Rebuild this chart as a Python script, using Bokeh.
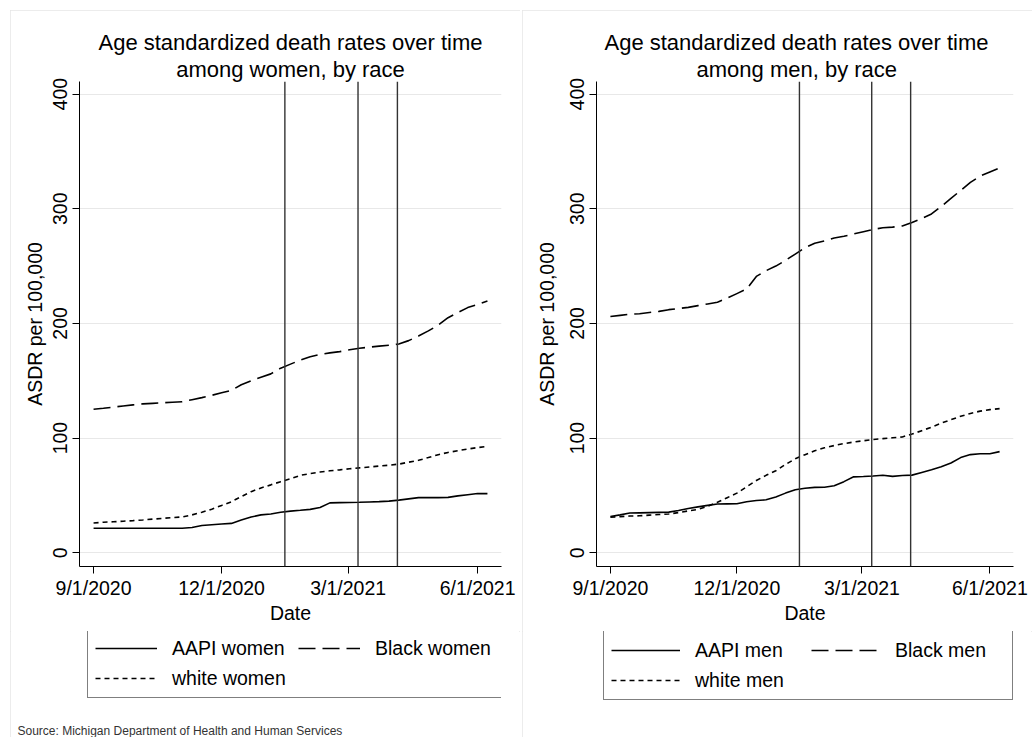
import pandas as pd
from bokeh.plotting import figure
from bokeh.models import Span, Legend, LegendItem, FixedTicker, Title
from bokeh.layouts import row, column
from bokeh.embed import file_html
from bokeh.resources import INLINE

# ---------------- data (weekly) ----------------
week_dates = pd.date_range("2020-09-01", periods=41, freq="7D")

aapi_women = [21.4, 21.4, 21.4, 21.4, 21.4, 21.4, 21.4, 21.4, 21.4, 21.4,
              22.0, 23.7, 24.4, 25.0, 25.6, 28.5, 31.2, 33.0, 33.8, 35.3,
              36.3, 37.0, 37.8, 39.5, 43.5, 43.7, 43.8, 44.0, 44.3, 44.6,
              45.0, 45.9, 47.0, 48.1, 48.1, 48.1, 48.3, 49.6, 50.6, 51.6, 51.6]
black_women = [125.2, 126.0, 127.0, 128.0, 129.0, 129.8, 130.3, 130.8, 131.3, 131.7,
               133.5, 135.3, 137.3, 139.5, 141.6, 146.5, 150.0, 153.0, 156.0, 161.0,
               164.5, 168.0, 171.0, 173.0, 174.3, 175.4, 177.0, 178.3, 179.3, 180.2,
               181.0, 182.0, 185.0, 189.0, 193.5, 198.5, 205.0, 209.5, 213.8, 216.5, 219.5]
white_women = [26.0, 26.6, 27.0, 27.5, 28.0, 28.6, 29.3, 30.0, 30.6, 31.2,
               33.0, 35.3, 38.0, 41.2, 44.5, 49.0, 53.3, 56.5, 59.2, 62.0,
               64.5, 67.5, 69.0, 70.4, 71.5, 72.3, 73.2, 74.0, 74.8, 75.6,
               76.3, 77.3, 79.0, 80.6, 83.0, 85.5, 87.5, 89.0, 90.5, 91.7, 92.7]

aapi_men = [31.6, 33.0, 34.6, 34.8, 35.0, 35.2, 35.4, 36.8, 38.6, 40.0,
            41.3, 42.5, 42.6, 42.7, 44.5, 45.5, 46.2, 48.6, 52.0, 55.0,
            56.3, 57.0, 57.1, 58.5, 62.0, 66.2, 66.5, 66.9, 67.6, 66.6,
            67.4, 67.7, 70.0, 72.3, 75.0, 78.3, 83.0, 85.6, 86.3, 86.3, 88.2]
black_men = [206.0, 207.0, 208.0, 208.5, 209.5, 210.5, 212.0, 213.0, 214.0, 215.5,
             217.0, 218.5, 222.0, 226.0, 230.0, 241.0, 246.0, 250.0, 255.0, 260.5,
             266.0, 270.0, 272.0, 274.5, 276.0, 278.0, 280.0, 282.0, 283.5, 284.0,
             285.0, 288.0, 291.5, 295.5, 302.0, 309.0, 316.0, 323.0, 328.5, 332.0, 335.5]
white_men = [31.0, 31.5, 32.0, 32.2, 32.8, 33.3, 33.8, 35.0, 36.5, 37.8,
             40.5, 44.0, 48.0, 52.0, 57.5, 63.0, 67.5, 71.5, 77.0, 82.0,
             85.5, 89.0, 91.5, 93.5, 95.2, 96.5, 97.7, 98.7, 99.5, 100.3,
             101.0, 103.5, 106.5, 109.5, 113.0, 116.0, 119.0, 121.5, 123.5, 124.8, 125.7]

tick_dates = ["2020-09-01", "2020-12-01", "2021-03-01", "2021-06-01"]
tick_labels = ["9/1/2020", "12/1/2020", "3/1/2021", "6/1/2021"]
event_dates = ["2021-01-15", "2021-03-08", "2021-04-05"]
y_ticks = [0, 100, 200, 300, 400]
source_note = "Source: Michigan Department of Health and Human Services"

origin = pd.Timestamp("2020-09-01")


def to_days(ds):
    return [float((pd.Timestamp(d) - origin).days) for d in ds]


x_days = to_days(week_dates)
tick_days = to_days(tick_dates)
event_days = to_days(event_dates)

FONT = "Liberation Sans"
FS = "19.5px"
TFS = "22px"
DASHES = ["solid", "17 7", "5 4"]
PANEL_STYLE = {"outline": "1px solid #e6e6e6", "outline-offset": "-1px"}


def make_main(title_specs, series, border_left, fw, label_standoff):
    p = figure(frame_width=fw, frame_height=485, x_range=(-10, 290), y_range=(-12, 411),
               output_backend="svg", toolbar_location=None,
               min_border_left=border_left, min_border_right=19,
               min_border_top=71, min_border_bottom=65)
    p.outline_line_color = None
    p.title.visible = False

    for txt, align, off in reversed(title_specs):
        p.add_layout(Title(text=txt, align=align, offset=off,
                           text_font=FONT, text_font_size=TFS, text_color="black",
                           text_font_style="normal", standoff=0), "above")

    p.xaxis.ticker = FixedTicker(ticks=tick_days)
    p.xaxis.major_label_overrides = {int(d): l for d, l in zip(tick_days, tick_labels)}
    p.yaxis.ticker = FixedTicker(ticks=y_ticks)
    p.xaxis.axis_label = "Date"
    p.yaxis.axis_label = "ASDR per 100,000"
    for ax in (p.xaxis[0], p.yaxis[0]):
        ax.axis_line_color = "black"
        ax.major_tick_line_color = "black"
        ax.major_tick_out = 7
        ax.major_tick_in = 0
        ax.minor_tick_line_color = None
        ax.major_label_text_font = FONT
        ax.major_label_text_font_size = FS
        ax.major_label_text_color = "black"
        ax.axis_label_text_font = FONT
        ax.axis_label_text_font_size = FS
        ax.axis_label_text_font_style = "normal"
        ax.axis_label_text_color = "black"
    p.xaxis.major_label_standoff = 3
    p.xaxis.axis_label_standoff = 0
    p.yaxis.major_label_orientation = "vertical"
    p.yaxis.major_label_standoff = 5
    p.yaxis.axis_label_standoff = label_standoff

    p.xgrid.visible = False
    p.ygrid.ticker = FixedTicker(ticks=y_ticks)
    p.ygrid.grid_line_color = "#e8e8e8"

    for d in event_days:
        p.add_layout(Span(location=d, dimension="height", line_color="#333333",
                          line_width=1.4))

    for ys, dash in zip(series, DASHES):
        p.line(x_days, ys, line_color="black", line_width=1.6, line_dash=dash)
    return p


def make_legend_fig(series, labels, border_left, fw, legend_x, glyph_w, label_w,
                    source=None):
    # legend strip below the chart; its proxy lines use the same series but
    # lie outside this strip's y-range, so only the legend itself is drawn
    q = figure(frame_width=fw, height=106, x_range=(-10, 290), y_range=(1000, 1001),
               output_backend="svg", toolbar_location=None,
               min_border_left=border_left, min_border_right=19,
               min_border_top=0, min_border_bottom=14)
    q.axis.visible = False
    q.grid.visible = False
    q.outline_line_color = None
    q.title.visible = False
    items = []
    for ys, lab, dash in zip(series, labels, DASHES):
        r = q.line(x_days, ys, line_color="black", line_width=1.6, line_dash=dash)
        items.append(LegendItem(label=lab, renderers=[r]))
    legend = Legend(items=items, orientation="horizontal", ncols=2,
                    location=(legend_x, 23), border_line_color="black",
                    border_line_width=1, glyph_width=glyph_w, glyph_height=24,
                    label_height=24, label_width=label_w, label_standoff=15,
                    spacing=6, padding=7, margin=0, label_text_font=FONT,
                    label_text_font_size=FS, label_text_color="black")
    q.add_layout(legend, "center")
    if source:
        q.add_layout(Title(text=source, align="left", offset=-62, standoff=0,
                           text_font=FONT, text_font_size="12px",
                           text_font_style="normal", text_color="#333333"), "below")
    return q


title1 = "Age standardized death rates over time"
women = [aapi_women, black_women, white_women]
men = [aapi_men, black_men, white_men]

p1 = make_main([(title1, "center", 0), ("among women, by race", "center", 0)],
               women, 69, 422, 5)
l1 = make_legend_fig(women, ["AAPI women", "Black women", "white women"],
                     69, 422, 8, 62, 120, source_note)

p2 = make_main([(title1, "left", 8), ("among men, by race", "left", 100)],
               men, 74, 417, 10)
l2 = make_legend_fig(men, ["AAPI men", "Black men", "white men"],
                     74, 417, 7, 69, 110)

c1 = column(p1, l1, spacing=0)
c1.margin = (10, 0, 0, 10)
c1.styles = PANEL_STYLE
c2 = column(p2, l2, spacing=0)
c2.margin = (10, 0, 0, 2)
c2.styles = PANEL_STYLE

layout = row(c1, c2)
open("out.html", "w").write(file_html(layout, INLINE))
